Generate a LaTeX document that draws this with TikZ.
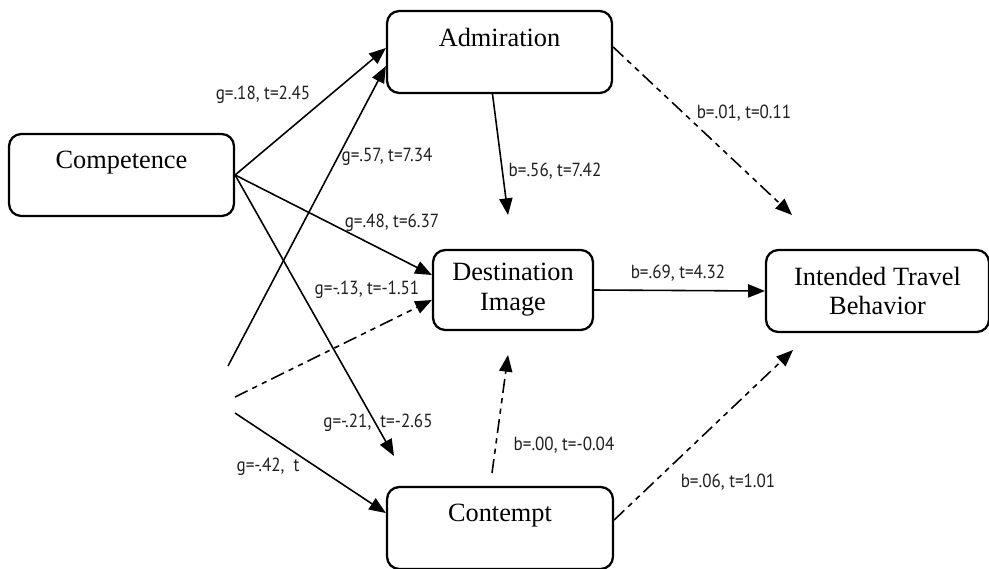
\documentclass[tikz,border=0pt]{standalone}
\usepackage{fontspec}
\setmainfont{Liberation Serif}
\newfontfamily\coeffont[FakeStretch=0.9]{PT Sans}
\usetikzlibrary{arrows.meta, positioning, calc}

\begin{document}
\begin{tikzpicture}[
    x=0.02cm, y=-0.02cm,
    box/.style={draw, line width=1.3pt, rounded corners=7pt, minimum width=4.5cm, minimum height=1.64cm, font=\fontsize{15}{17}\selectfont, align=center, inner sep=0pt},
    coef/.style={font=\coeffont\fontsize{10.8}{12}\selectfont, text=black!88, inner sep=1pt},
    arrow/.style={-{Triangle[length=9.5pt, width=7.5pt]}, line width=0.9pt},
    dashdot/.style={arrow, dash pattern=on 8pt off 3pt on 3pt off 3pt on 3pt off 3pt},
]
    \useasboundingbox (0,0) rectangle (989,568);

    % Constructs
    \node[box] (comp) at (121.5,175) {Competence\\\mbox{}};
    \node[box] (adm) at (499.5,52) {Admiration\\\mbox{}};
    \node[box, minimum width=3.2cm, minimum height=1.6cm] (dest) at (513,290) {Destination\\Image};
    \node[box, minimum width=4.46cm] (itb) at (877.5,291) {Intended Travel\\Behavior};
    \node[box, minimum width=4.52cm] (cont) at (500,528) {Contempt\\\mbox{}};

    % Free ends
    \coordinate (wa) at (228,366);
    \coordinate (wb) at (235,397);
    \coordinate (wc) at (235,413);
    \coordinate (ce) at (394,456);
    \coordinate (ad) at (508,215);
    \coordinate (ai) at (792,215);
    \coordinate (cs) at (492,473);
    \coordinate (cd) at (508,355);
    \coordinate (ci) at (793,350);

    % Arrows
    \draw[arrow] (comp.east) -- ($(adm.west)+(0,-4)$);
    \draw[arrow] (wa) -- ($(adm.west)+(0,14)$);
    \draw[arrow] (comp.east) -- ($(dest.west)+(0,-15)$);
    \draw[dashdot] (wb) -- ($(dest.west)+(0,10)$);
    \draw[arrow] (comp.east) -- (ce);
    \draw[arrow] (wc) -- ($(cont.west)+(0,-15)$);
    \draw[arrow] ($(adm.south)+(-7,0)$) -- (ad);
    \draw[dashdot] ($(adm.east)+(0,-5)$) -- (ai);
    \draw[arrow] (dest.east) -- (itb.west);
    \draw[dashdot] (cs) -- (cd);
    \draw[dashdot] ($(cont.east)+(0,-8)$) -- (ci);

    % Coefficients
    \node[coef] (l1) at (263,95) {g=.18, t=2.45};
    \node[coef] (l2) at (387,157) {g=.57, t=7.34};
    \node[coef] (l3) at (392,223) {g=.48, t=6.37};
    \node[coef] (l4) at (367,290) {g=-.13, t=-1.51};
    \node[coef] (l5) at (378,423) {g=-.21,\ \ t=-2.65};
    \node[coef] (l6) at (268,467) {g=-.42,\ \ t};
    \node[coef] (l7) at (555,171) {b=.56, t=7.42};
    \node[coef] (l8) at (744,113) {b=.01, t=0.11};
    \node[coef] (l9) at (678,273) {b=.69, t=4.32};
    \node[coef] (l10) at (564,445) {b=.00, t=-0.04};
    \node[coef] (l11) at (728,482) {b=.06, t=1.01};
\end{tikzpicture}
\end{document}
